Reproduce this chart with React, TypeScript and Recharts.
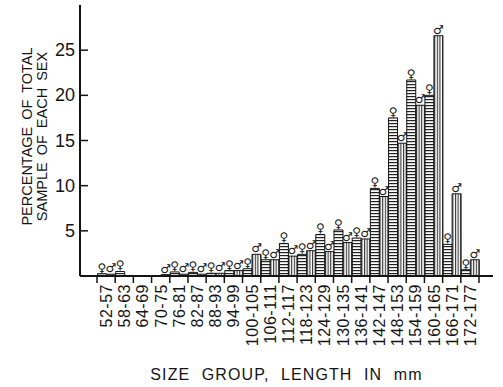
import React from 'react';
import { BarChart, Bar, XAxis, YAxis, LabelList } from 'recharts';

const categories = [
  '52-57', '58-63', '64-69', '70-75', '76-81', '82-87', '88-93', '94-99',
  '100-105', '106-111', '112-117', '118-123', '124-129', '130-135', '136-141',
  '142-147', '148-153', '154-159', '160-165', '166-171', '172-177',
];
const femalePct = [0.25, 0.5, 0, 0, 0.45, 0.4, 0.3, 0.6, 0.8, 1.8, 3.6, 2.4, 4.6, 5.1, 4.2, 9.7, 17.5, 21.7, 20.0, 3.5, 0.7];
const malePct = [0.2, 0, 0, 0.15, 0.2, 0.2, 0.3, 0.6, 2.4, 1.8, 2.2, 2.8, 2.7, 3.7, 4.1, 8.8, 14.7, 18.9, 26.6, 9.1, 1.8];
const yTicks = [5, 10, 15, 20, 25];
const yTitleLines = ['PERCENTAGE OF TOTAL', 'SAMPLE OF EACH SEX'];
const xTitle = 'SIZE GROUP, LENGTH IN mm';
const femaleSymbol = '\u2640';
const maleSymbol = '\u2642';

const data = categories.map((group, i) => ({ group, female: femalePct[i], male: malePct[i] }));

const FONT = '"Liberation Sans", Arial, Helvetica, sans-serif';
const INK = '#141414';

const XTick = (props: any) => {
  const { x, y, payload, index, visibleTicksCount } = props;
  const half = payload && payload.offset ? payload.offset : 9.1;
  const last = index === visibleTicksCount - 1;
  return (
    <g>
      <line x1={x - half} x2={x - half} y1={y} y2={y + 7} stroke={INK} strokeWidth={1.5} />
      {last && <line x1={x + half} x2={x + half} y1={y} y2={y + 7} stroke={INK} strokeWidth={1.5} />}
      <text
        transform={`translate(${x + 6},${y + 8}) rotate(-90)`}
        textAnchor="end"
        fontSize={16}
        letterSpacing={0.5}
        fontFamily={FONT}
        fill={INK}
      >
        {payload.value}
      </text>
    </g>
  );
};

const YTick = (props: any) => {
  const { x, y, payload } = props;
  return (
    <g>
      <line x1={x} x2={x + 8} y1={y} y2={y} stroke={INK} strokeWidth={1.5} />
      <text x={x - 5} y={y} dy={6} textAnchor="end" fontSize={18} fontFamily={FONT} fill={INK}>
        {payload.value}
      </text>
    </g>
  );
};

const renderYTitle = (props: any) => {
  const vb = props.viewBox || { x: 0, y: 5, width: 80, height: 271 };
  const cy = vb.y + vb.height / 2 - 4;
  return (
    <g>
      <text transform={`translate(${vb.x + 32},${cy}) rotate(-90)`} textAnchor="middle" fontSize={14.5} fontFamily={FONT} fill={INK} wordSpacing={3}>
        {yTitleLines[0]}
      </text>
      <text transform={`translate(${vb.x + 47},${cy}) rotate(-90)`} textAnchor="middle" fontSize={14.5} fontFamily={FONT} fill={INK} wordSpacing={3}>
        {yTitleLines[1]}
      </text>
    </g>
  );
};

const symbolLabel = (sym: string) => (props: any) => {
  const { x, y, width, value } = props;
  if (!value) return null;
  return (
    <text x={x + width / 2} y={y - 2} textAnchor="middle" fontSize={12} fontFamily='"DejaVu Sans", sans-serif' fill={INK}>
      {sym}
    </text>
  );
};

export default function App() {
  return (
    <div style={{ position: 'absolute', left: 0, top: 0, width: 503, height: 387, background: '#fff' }}>
      <svg width={0} height={0} style={{ position: 'absolute' }}>
        <defs>
          <pattern id="hatchH" width={4} height={3} patternUnits="userSpaceOnUse">
            <rect width={4} height={3} fill="#fff" />
            <rect y={0} width={4} height={1.2} fill="#222" />
          </pattern>
          <pattern id="hatchV" width={2.6} height={4} patternUnits="userSpaceOnUse">
            <rect width={2.6} height={4} fill="#fff" />
            <rect x={0} width={1.1} height={4} fill="#333" />
          </pattern>
        </defs>
      </svg>
      <BarChart
        width={503}
        height={387}
        data={data}
        margin={{ top: 5, right: 10, left: 0, bottom: 0 }}
        barCategoryGap={0.5}
        barGap={0}
      >
        <XAxis
          dataKey="group"
          interval={0}
          height={111}
          padding={{ left: 17, right: 14 }}
          tickLine={false}
          tickSize={0}
          tickMargin={0}
          tick={<XTick />}
          axisLine={{ stroke: INK, strokeWidth: 2 }}
          label={{
            value: xTitle,
            position: 'insideBottom',
            offset: 7,
            style: { fontSize: 16, fontFamily: FONT, fill: INK, letterSpacing: 1.1, wordSpacing: 6 },
          }}
        />
        <XAxis
          xAxisId="top"
          orientation="top"
          dataKey="group"
          height={0}
          tick={false}
          tickLine={false}
          axisLine={{ stroke: INK, strokeWidth: 2 }}
        />
        <YAxis
          width={80}
          domain={[0, 30]}
          ticks={yTicks}
          interval={0}
          tickLine={false}
          tickSize={0}
          tickMargin={0}
          tick={<YTick />}
          axisLine={{ stroke: INK, strokeWidth: 2 }}
          label={renderYTitle}
        />
        <YAxis
          yAxisId="right"
          orientation="right"
          width={0}
          domain={[0, 30]}
          tick={false}
          tickLine={false}
          axisLine={{ stroke: INK, strokeWidth: 2 }}
        />
        <Bar dataKey="female" fill="url(#hatchH)" stroke={INK} strokeWidth={1} isAnimationActive={false}>
          <LabelList dataKey="female" content={symbolLabel(femaleSymbol)} />
        </Bar>
        <Bar dataKey="male" fill="url(#hatchV)" stroke={INK} strokeWidth={1} isAnimationActive={false}>
          <LabelList dataKey="male" content={symbolLabel(maleSymbol)} />
        </Bar>
      </BarChart>
    </div>
  );
}
